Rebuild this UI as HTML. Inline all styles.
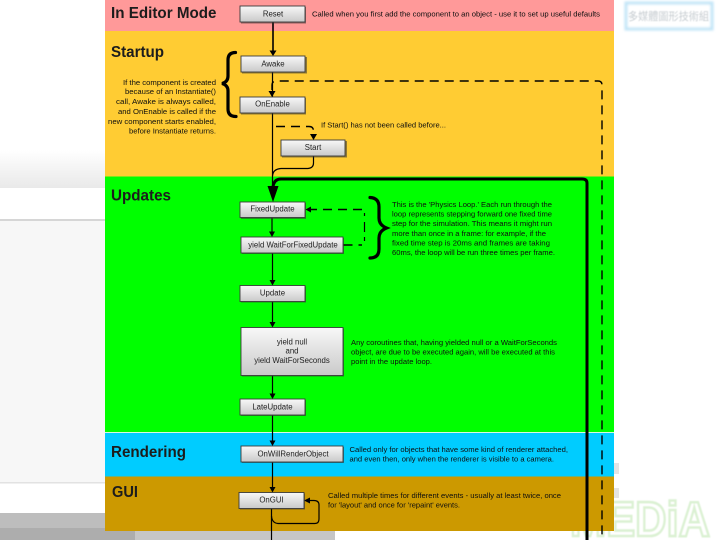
<!DOCTYPE html>
<html>
<head>
<meta charset="utf-8">
<style>
html,body{margin:0;padding:0;background:#fff;width:720px;height:540px;overflow:hidden}
svg{display:block}
text{font-family:"Liberation Sans","Noto Sans CJK TC",sans-serif}
.s{font-size:7.7px;fill:#111;filter:url(#b)}
.n{font-size:7.8px;fill:#222;text-anchor:middle;filter:url(#b)}
.h{font-size:15.5px;font-weight:bold;fill:#1c1c1c;filter:url(#b)}
.t{fill:none;stroke:#000;stroke-width:1.2}
.d{fill:none;stroke:#000;stroke-width:1.4;stroke-dasharray:9 6}
.br{fill:none;stroke:#000;stroke-width:3.2;stroke-linecap:round}
</style>
</head>
<body>
<svg width="720" height="540" viewBox="0 0 720 540" xmlns="http://www.w3.org/2000/svg">
<defs>
<filter id="b" x="-5%" y="-30%" width="110%" height="160%"><feGaussianBlur stdDeviation="0.35"/></filter>
<filter id="g" x="-20%" y="-50%" width="140%" height="200%"><feGaussianBlur stdDeviation="1.4"/></filter>
<filter id="w" x="-5%" y="-20%" width="110%" height="140%"><feGaussianBlur stdDeviation="0.5"/></filter>
<linearGradient id="box" x1="0" y1="0" x2="0" y2="1"><stop offset="0" stop-color="#f8f8f8"/><stop offset="1" stop-color="#c9c9c9"/></linearGradient>
<linearGradient id="lg" x1="0" y1="0" x2="0" y2="1"><stop offset="0" stop-color="#fff"/><stop offset="1" stop-color="#e9e9e9"/></linearGradient>
</defs>

<!-- background page left -->
<rect x="0" y="150" width="105" height="38" fill="url(#lg)"/>
<rect x="0" y="188" width="105" height="31" fill="#fff"/>
<rect x="0" y="219" width="105" height="2" fill="#d6d6d6"/>
<rect x="0" y="221" width="105" height="261" fill="#f7f7f7"/>
<rect x="0" y="482" width="105" height="1.5" fill="#e2e2e2"/>
<rect x="0" y="513" width="105" height="15" fill="#bdbdbd"/>
<rect x="0" y="528" width="135" height="12" fill="#adadad"/>
<rect x="135" y="528" width="200" height="12" fill="#c6c6c6"/>

<!-- watermarks -->
<rect x="626" y="3" width="86" height="26" fill="#fff" stroke="#bfe4f7" stroke-width="3" filter="url(#g)"/>
<text x="628" y="20" font-size="10.6" fill="#c6ccd0" textLength="81" lengthAdjust="spacingAndGlyphs" filter="url(#w)">多媒體圖形技術組</text>
<text x="570" y="536" font-size="49" font-weight="bold" fill="#fff" stroke="#dbf1d3" stroke-width="2.6" textLength="140" lengthAdjust="spacingAndGlyphs" filter="url(#w)">MEDiA</text>
<rect x="614" y="463" width="5" height="11" fill="#e4e4e4"/>
<rect x="614" y="488" width="5" height="10" fill="#e4e4e4"/>

<!-- bands -->
<rect x="105" y="0" width="509" height="31" fill="#ff9999"/>
<rect x="105" y="31" width="509" height="145.500" fill="#ffcc33"/>
<rect x="105" y="176.500" width="509" height="255.500" fill="#00ff00"/>
<rect x="105" y="432" width="509" height="1" fill="#d8f8e0"/>
<rect x="105" y="433" width="509" height="43.500" fill="#00ccff"/>
<rect x="105" y="476.500" width="509" height="54.500" fill="#cc9900"/>

<!-- headings -->
<text class="h" x="111" y="18" textLength="105.500" lengthAdjust="spacingAndGlyphs">In Editor Mode</text>
<text class="h" x="111" y="57" textLength="53" lengthAdjust="spacingAndGlyphs">Startup</text>
<text class="h" x="111" y="200.500" textLength="60" lengthAdjust="spacingAndGlyphs">Updates</text>
<text class="h" x="111" y="457" textLength="75" lengthAdjust="spacingAndGlyphs">Rendering</text>
<text class="h" x="112" y="497" textLength="26" lengthAdjust="spacingAndGlyphs">GUI</text>

<!-- connectors -->
<path d="M273 22V52" fill="none" stroke="#000" stroke-width="1.6"/>
<path d="M269.500 50.500H276.500L273 56Z"/>
<path class="t" d="M272.500 72V176"/>
<path class="d" d="M272 90V85Q272 81 277 81H598Q602 81 602 85V540"/>
<path d="M268.500 91H275.500L272 97Z"/>
<path class="d" d="M276 126.500H309Q313.500 126.500 313.500 131V135" stroke-dasharray="9 5"/>
<path d="M310 134H317L313.500 140Z"/>
<path class="t" d="M313.500 156V163Q313.500 168 308 168.500H281Q273 169 272.500 176V190" stroke-width="1.3"/>
<path d="M587 540V183Q587 179 582 179H281Q274 179 273 187" fill="none" stroke="#000" stroke-width="3"/>
<path d="M267.500 186H278.500L273 202Z"/>
<path class="d" d="M362 209.500H309" stroke-dasharray="9 6"/>
<path d="M311 206.500V212.500L305.500 209.500Z"/>
<path class="t" d="M364.500 213V216M364.500 222V232M364.500 237V241" stroke-width="1.2"/>
<path class="d" d="M343.500 245H362" stroke-dasharray="3 4 8 4"/>
<path class="t" d="M272 217.500V233"/>
<path d="M269 231.500H275L272 237Z"/>
<path class="t" d="M272.500 253V281"/>
<path d="M269.500 280H275.500L272.500 285.500Z"/>
<path class="t" d="M272.500 301.500V323"/>
<path d="M269.500 322H275.500L272.500 327.500Z"/>
<path class="t" d="M272.500 375.500V394"/>
<path d="M269.500 393.500H275.500L272.500 399Z"/>
<path class="t" d="M272.500 415V441"/>
<path d="M269.500 440.500H275.500L272.500 446Z"/>
<path class="t" d="M272.500 462V488"/>
<path d="M269.500 487H275.500L272.500 492.500Z"/>
<path class="t" d="M271.500 508V540"/>
<path class="t" d="M271.500 516Q272 523 278 523.500H315Q319 523.500 319 519V505Q319 500.500 314 500.500H309"/>
<path d="M310 497.500V503.500L304 500.500Z"/>

<!-- braces -->
<path class="br" d="M235.500 52.500Q228 52.500 228 60V76Q228 82 222 83.500Q228 85 228 91V109Q228 116.500 236 116.500"/>
<path class="br" d="M370 197.500Q379 198 379 207V218Q379 225 386.500 228Q379 231 379 238V249Q379 258 370 258"/>

<!-- nodes -->
<g fill="#333" opacity=".55">
<rect x="241" y="7" width="65" height="16.500"/>
<rect x="242" y="57" width="65" height="16.500"/>
<rect x="241" y="98" width="65" height="16.500"/>
<rect x="282" y="141" width="65" height="16.500"/>
<rect x="241" y="203" width="65" height="16"/>
<rect x="242" y="238" width="102" height="16"/>
<rect x="241" y="286.500" width="65" height="16"/>
<rect x="242" y="328.500" width="102" height="48"/>
<rect x="241" y="400" width="65" height="16"/>
<rect x="242" y="447" width="102" height="16"/>
<rect x="240" y="493.500" width="65" height="16"/>
</g>
<g fill="url(#box)" stroke="#3a3a3a" stroke-width="0.9">
<rect x="240" y="6" width="65" height="16"/>
<rect x="241" y="56" width="64" height="16"/>
<rect x="240" y="97" width="65" height="16"/>
<rect x="281" y="140" width="64" height="16"/>
<rect x="240" y="202" width="65" height="15.500"/>
<rect x="241" y="237" width="102" height="16"/>
<rect x="240" y="285.500" width="65" height="16"/>
<rect x="241" y="327.500" width="102" height="48"/>
<rect x="240" y="399" width="65" height="16"/>
<rect x="241" y="446" width="102" height="16"/>
<rect x="239" y="492.500" width="65" height="16"/>
</g>
<text class="n" x="273" y="16.500">Reset</text>
<text class="n" x="273" y="66.500">Awake</text>
<text class="n" x="272.500" y="106.500">OnEnable</text>
<text class="n" x="313" y="150">Start</text>
<text class="n" x="272.500" y="211.500">FixedUpdate</text>
<text class="n" x="293" y="247.500">yield WaitForFixedUpdate</text>
<text class="n" x="272.500" y="295.500">Update</text>
<text class="n" x="292" y="344.500">yield null</text>
<text class="n" x="292" y="353.500">and</text>
<text class="n" x="292" y="363">yield WaitForSeconds</text>
<text class="n" x="272.500" y="409.500">LateUpdate</text>
<text class="n" x="293" y="456.500">OnWillRenderObject</text>
<text class="n" x="271.500" y="502.500">OnGUI</text>

<!-- descriptions -->
<text class="s" x="312" y="16.500" textLength="288" lengthAdjust="spacingAndGlyphs">Called when you first add the component to an object - use it to set up useful defaults</text>
<text class="s" x="123" y="85" textLength="93" lengthAdjust="spacingAndGlyphs">If the component is created</text>
<text class="s" x="125" y="94" textLength="91" lengthAdjust="spacingAndGlyphs">because of an Instantiate()</text>
<text class="s" x="116" y="104" textLength="100" lengthAdjust="spacingAndGlyphs">call, Awake is always called,</text>
<text class="s" x="118" y="114" textLength="98" lengthAdjust="spacingAndGlyphs">and OnEnable is called if the</text>
<text class="s" x="108" y="124" textLength="108" lengthAdjust="spacingAndGlyphs">new component starts enabled,</text>
<text class="s" x="129" y="133.500" textLength="87" lengthAdjust="spacingAndGlyphs">before Instantiate returns.</text>
<text class="s" x="321" y="127.500" textLength="125" lengthAdjust="spacingAndGlyphs">If Start() has not been called before...</text>

<text class="s" x="392" y="207" textLength="160" lengthAdjust="spacingAndGlyphs">This is the 'Physics Loop.' Each run through the</text>
<text class="s" x="392" y="216.500" textLength="160" lengthAdjust="spacingAndGlyphs">loop represents stepping forward one fixed time</text>
<text class="s" x="392" y="226" textLength="160" lengthAdjust="spacingAndGlyphs">step for the simulation. This means it might run</text>
<text class="s" x="392" y="236" textLength="154" lengthAdjust="spacingAndGlyphs">more than once in a frame: for example, if the</text>
<text class="s" x="392" y="245.500" textLength="158" lengthAdjust="spacingAndGlyphs">fixed time step is 20ms and frames are taking</text>
<text class="s" x="392" y="255" textLength="163" lengthAdjust="spacingAndGlyphs">60ms, the loop will be run three times per frame.</text>

<text class="s" x="351" y="345" textLength="206" lengthAdjust="spacingAndGlyphs">Any coroutines that, having yielded null or a WaitForSeconds</text>
<text class="s" x="351" y="354.500" textLength="204" lengthAdjust="spacingAndGlyphs">object, are due to be executed again, will be executed at this</text>
<text class="s" x="351" y="364" textLength="81" lengthAdjust="spacingAndGlyphs">point in the update loop.</text>

<text class="s" x="349.500" y="452" textLength="218.500" lengthAdjust="spacingAndGlyphs">Called only for objects that have some kind of renderer attached,</text>
<text class="s" x="349.500" y="461.500" textLength="204.500" lengthAdjust="spacingAndGlyphs">and even then, only when the renderer is visible to a camera.</text>

<text class="s" x="328" y="498" textLength="233" lengthAdjust="spacingAndGlyphs">Called multiple times for different events - usually at least twice, once</text>
<text class="s" x="328" y="507.500" textLength="132" lengthAdjust="spacingAndGlyphs">for 'layout' and once for 'repaint' events.</text>
</svg>
</body>
</html>
